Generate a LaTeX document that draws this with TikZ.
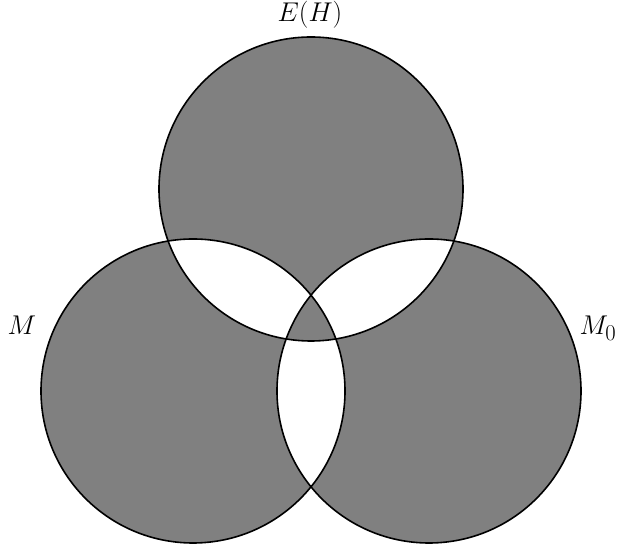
\documentclass[tikz,border=0pt]{standalone}
\begin{document}
\begin{tikzpicture}[x=1pt,y=1pt,
  venn/.style={draw=black,line width=1.6pt},
  lab/.style={inner sep=0pt,font=\Huge,scale=1.09,transform shape}]
\useasboundingbox (0,0) rectangle (619,548);
\coordinate (ct) at (311,359);
\coordinate (cl) at (193,157);
\coordinate (cr) at (429,157);
\fill[gray,even odd rule] (ct) circle[radius=152] (cl) circle[radius=152] (cr) circle[radius=152];
\draw[venn] (ct) circle[radius=152];
\draw[venn] (cl) circle[radius=152];
\draw[venn] (cr) circle[radius=152];
\node[lab] (eh) at (310,533) {$E(H)$};
\node[lab,anchor=base] (m) at (22,213) {$M$};
\node[lab,anchor=base] (m0) at (598,213) {$M_0$};
\end{tikzpicture}
\end{document}
